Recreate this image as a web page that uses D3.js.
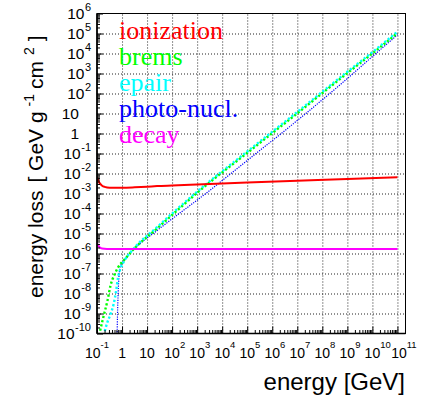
<!DOCTYPE html>
<html>
<head>
<meta charset="utf-8">
<script src="https://cdn.jsdelivr.net/npm/d3@7"></script>
<style>
  html, body { margin: 0; padding: 0; background: #fff; }
  svg { display: block; font-family: "Liberation Sans", Arial, Helvetica, sans-serif; }
  .grid line { stroke: #222; stroke-width: 1; stroke-dasharray: 1 2; }
  .grid path { display: none; }
  .ticks line { stroke: #000; stroke-width: 1; }
  .ticks path { display: none; }
</style>
</head>
<body>
<svg id="chart" width="443" height="406"></svg>
<script>
// Muon energy loss components, [energy in GeV, loss in GeV g^-1 cm^2]
const ionization = [
  [0.1, 6.8e-3], [0.115, 4.2e-3], [0.13, 3.2e-3], [0.16, 2.45e-3], [0.2, 2.15e-3],
  [0.32, 1.95e-3], [1, 1.95e-3], [3.2, 2.04e-3], [10, 2.19e-3], [25, 2.34e-3],
  [100, 2.51e-3], [3200, 2.95e-3], [1e5, 3.55e-3], [1e7, 4.37e-3], [1e9, 5.25e-3],
  [1e11, 6.46e-3]
];
const brems = [
  [0.112, 5.0e-11], [0.126, 1e-10], [0.182, 7.1e-10], [0.263, 4.5e-9], [0.347, 2.5e-8],
  [0.501, 8.9e-8], [0.724, 2.2e-7], [1.26, 5.0e-7], [2.82, 1.58e-6], [25.1, 1.78e-5],
  [158, 1.41e-4], [1260, 1.38e-3], [1e5, 0.107], [1e7, 10.2], [1e9, 1050],
  [1e10, 1.0e4], [1e11, 1.05e5]
];
const epair = [
  [0.174, 6.3e-11], [0.251, 3.2e-10], [0.355, 1e-9], [0.468, 3.2e-9], [0.575, 1.26e-8],
  [0.692, 6.3e-8], [0.871, 1.78e-7], [1.26, 4.5e-7], [2.82, 1.66e-6], [25.1, 2.09e-5],
  [158, 1.66e-4], [1260, 1.58e-3], [1e5, 0.126], [1e7, 12], [1e9, 1230],
  [1e10, 1.17e4], [1e11, 1.23e5]
];
const photonucl = [
  [0.631, 5e-11], [0.661, 1e-9], [0.7, 1e-8], [0.759, 7.9e-8], [0.891, 2.5e-7],
  [1.17, 4.2e-7], [2.82, 1.51e-6], [25.1, 1.41e-5], [3160, 1.41e-3], [1e5, 0.0447],
  [1e7, 4.47], [1e9, 562], [1e10, 7080], [1e11, 8.5e4]
];
const decay = [
  [0.1, 3.3e-6], [0.115, 2.4e-6], [0.13, 2.0e-6], [0.16, 1.78e-6], [0.25, 1.69e-6],
  [0.5, 1.68e-6], [1e11, 1.68e-6]
];

// Decade exponents carrying labels on each axis
const xDecades = [-1, 0, 1, 2, 3, 4, 5, 6, 7, 8, 9, 10, 11];
const yDecades = [-10, -9, -8, -7, -6, -5, -4, -3, -2, -1, 0, 1, 2, 3, 4, 5, 6];

const legendNames = ["ionization", "brems", "epair", "photo-nucl.", "decay"];
const legendColors = ["#ff0000", "#00ff00", "#00ffff", "#0000ff", "#ff00ff"];

const xTitle = "energy [GeV]";

// Frame geometry
const L = 97, R = 405.5, T = 13.5, B = 333.5;

const x = d3.scaleLog().domain([0.1, 2.1e11]).range([L, R]);
const y = d3.scaleLog().domain([1e-10, 1e6]).range([B, T]);

const svg = d3.select("#chart");

svg.append("defs").append("clipPath").attr("id", "plotArea")
  .append("rect").attr("x", L).attr("y", T).attr("width", R - L).attr("height", B - T);

// Minor tick positions: 2..9 inside every decade that falls in the domain
function minorTicks(scale, decades) {
  const [lo, hi] = scale.domain();
  const out = [];
  decades.forEach(e => {
    for (let m = 2; m <= 9; m++) {
      const v = m * Math.pow(10, e);
      if (v > lo && v < hi) out.push(v);
    }
  });
  return out;
}
const xMajorVals = xDecades.map(e => Math.pow(10, e));
const yMajorVals = yDecades.map(e => Math.pow(10, e));
const xMinorVals = minorTicks(x, xDecades);
const yMinorVals = minorTicks(y, yDecades);

// Dotted grid at each decade
svg.append("g").attr("class", "grid").attr("transform", `translate(0,${B})`)
  .call(d3.axisBottom(x).tickValues(xMajorVals.slice(1)).tickSize(-(B - T)).tickFormat(""));
svg.append("g").attr("class", "grid").attr("transform", `translate(${L},0)`)
  .call(d3.axisLeft(y).tickValues(yMajorVals.slice(1, -1)).tickSize(-(R - L)).tickFormat(""));

// Curves
const line = d3.line().x(d => x(d[0])).y(d => y(d[1])).curve(d3.curveMonotoneX);
const curves = svg.append("g").attr("clip-path", "url(#plotArea)").attr("fill", "none");

curves.append("path").datum(photonucl).attr("d", line)
  .attr("stroke", legendColors[3]).attr("stroke-width", 1.2).attr("stroke-dasharray", "1.2 1.2");
curves.append("path").datum(brems).attr("d", line)
  .attr("stroke", legendColors[1]).attr("stroke-width", 2.4).attr("stroke-dasharray", "2.2 2.2");
curves.append("path").datum(epair).attr("d", line)
  .attr("stroke", legendColors[2]).attr("stroke-width", 2.4).attr("stroke-dasharray", "2.2 2.2")
  .attr("stroke-dashoffset", 2.2);
curves.append("path").datum(decay).attr("d", line)
  .attr("stroke", legendColors[4]).attr("stroke-width", 2);
curves.append("path").datum(ionization).attr("d", line)
  .attr("stroke", legendColors[0]).attr("stroke-width", 2);

// Frame
svg.append("rect").attr("x", L).attr("y", T).attr("width", R - L).attr("height", B - T)
  .attr("fill", "none").attr("stroke", "#000").attr("stroke-width", 1);
svg.append("line").attr("x1", L).attr("x2", L).attr("y1", T).attr("y2", B)
  .attr("stroke", "#000").attr("stroke-width", 1.6);
svg.append("line").attr("x1", L).attr("x2", R).attr("y1", B).attr("y2", B)
  .attr("stroke", "#000").attr("stroke-width", 1.6);

// Ticks pointing into the frame
svg.append("g").attr("class", "ticks").attr("transform", `translate(0,${B})`)
  .call(d3.axisBottom(x).tickValues(xMajorVals).tickSize(-7).tickFormat(""));
svg.append("g").attr("class", "ticks").attr("transform", `translate(0,${B})`)
  .call(d3.axisBottom(x).tickValues(xMinorVals).tickSize(-3.5).tickFormat(""));
svg.append("g").attr("class", "ticks").attr("transform", `translate(${L},0)`)
  .call(d3.axisLeft(y).tickValues(yMajorVals).tickSize(-6).tickFormat(""));
svg.append("g").attr("class", "ticks").attr("transform", `translate(${L},0)`)
  .call(d3.axisLeft(y).tickValues(yMinorVals).tickSize(-3).tickFormat(""));

// Power-of-ten labels: "1", "10", or "10" with a raised exponent
function powLabel(g, e, fs, efs, edy, edx) {
  const t = g.append("text").attr("font-size", fs).attr("fill", "#000");
  if (e === 0) t.text("1");
  else if (e === 1) t.text("10");
  else {
    t.append("tspan").attr("class", "base").text("10");
    t.append("tspan").attr("font-size", efs).attr("dy", edy).attr("dx", edx).text(String(e));
  }
  return t;
}

const xl = svg.append("g");
xDecades.forEach(e => {
  const px = x(Math.pow(10, e));
  const t = powLabel(xl, e, 14, 9.5, -10, 0).attr("y", 358);
  if (e > 1) {
    const bw = t.select(".base").node().getComputedTextLength();
    t.attr("x", px - bw / 2 + (e === 11 ? 1.5 : 0)).attr("text-anchor", "start");
  } else {
    t.attr("x", px).attr("text-anchor", "middle");
  }
});

const yl = svg.append("g");
yDecades.forEach(e => {
  const py = y(Math.pow(10, e));
  const t = powLabel(yl, e, 15.5, 11, -8, 0.5).attr("y", py + 5.5).attr("text-anchor", "end");
  t.attr("x", (e === 0 || e === 1) ? 79 : 91);
});

// Axis titles
svg.append("text").attr("x", 405).attr("y", 390).attr("text-anchor", "end")
  .attr("font-size", 24).text(xTitle);

const yt = svg.append("text").attr("transform", "translate(43,298) rotate(-90)")
  .attr("font-size", 21);
yt.append("tspan").text("energy loss");
yt.append("tspan").attr("dx", 8).text("[ GeV g");
yt.append("tspan").attr("font-size", 14).attr("dy", -9).attr("dx", 5).text("-1");
yt.append("tspan").attr("dy", 9).attr("dx", 5).text("cm");
yt.append("tspan").attr("font-size", 14).attr("dy", -9).attr("dx", 6).text("2");
yt.append("tspan").attr("dy", 9).attr("dx", 6).text("]");

// Legend labels
const leg = svg.append("g").attr("font-family", "'Liberation Serif', 'Times New Roman', serif")
  .attr("font-size", 26);
legendNames.forEach((name, i) => {
  leg.append("text").attr("x", 119).attr("y", 39 + i * 26).attr("fill", legendColors[i]).text(name);
});
</script>
</body>
</html>
